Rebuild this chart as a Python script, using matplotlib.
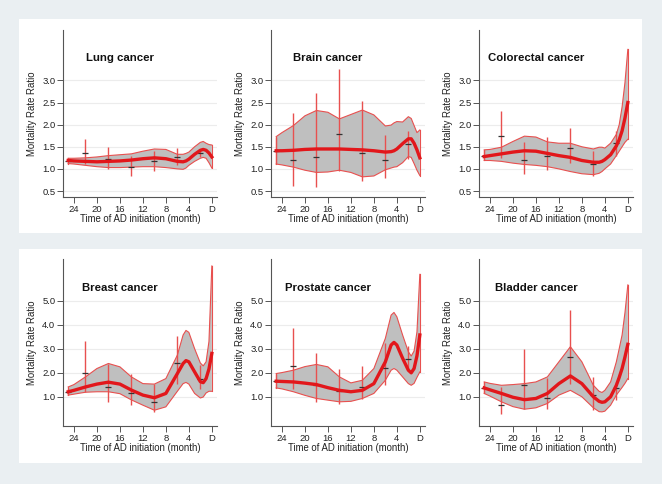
import matplotlib
matplotlib.use("Agg")
import matplotlib.pyplot as plt
from matplotlib.patches import Rectangle

plt.rcParams["font.family"] = ["Liberation Sans", "DejaVu Sans"]

#********************************************#
# data: months before diagnosis (D = 0)
pt_x = [25, 22, 18, 14, 10, 6, 2]
fit_x = [25, 24, 22, 20, 18, 16, 14, 12, 10, 8, 6, 5, 4.5, 4, 3, 2, 1.5, 1, 0.5, 0]

# lung
lung_est = [1.18, 1.36, 1.23, 1.05, 1.18, 1.27, 1.36]
lung_lo = [1.11, 1.11, 1.00, 0.83, 0.96, 1.08, 1.26]
lung_hi = [1.24, 1.68, 1.50, 1.30, 1.41, 1.47, 1.43]
lung_fit = [1.19, 1.18, 1.17, 1.16, 1.17, 1.18, 1.20, 1.23, 1.25, 1.23, 1.17, 1.16, 1.18, 1.22, 1.33, 1.42, 1.44, 1.42, 1.36, 1.27]
lung_up = [1.24, 1.24, 1.25, 1.27, 1.30, 1.32, 1.34, 1.40, 1.45, 1.44, 1.33, 1.33, 1.35, 1.38, 1.50, 1.60, 1.62, 1.58, 1.55, 1.54]
lung_dn = [1.12, 1.11, 1.08, 1.05, 1.03, 1.03, 1.04, 1.05, 1.05, 1.03, 1.00, 0.99, 1.02, 1.08, 1.17, 1.24, 1.26, 1.24, 1.14, 1.02]

# brain
brain_est = [1.41, 1.20, 1.27, 1.79, 1.36, 1.19, 1.57]
brain_lo = [1.11, 0.62, 0.59, 0.96, 0.72, 0.79, 1.23]
brain_hi = [1.73, 2.26, 2.71, 3.26, 2.54, 1.77, 1.86]
brain_fit = [1.41, 1.41, 1.42, 1.44, 1.45, 1.45, 1.45, 1.44, 1.43, 1.41, 1.38, 1.39, 1.41, 1.45, 1.57, 1.68, 1.68, 1.58, 1.43, 1.25]
brain_up = [1.73, 1.82, 1.98, 2.20, 2.32, 2.28, 2.13, 2.23, 2.33, 2.22, 1.97, 1.99, 2.04, 2.07, 2.06, 2.18, 2.14, 1.98, 1.82, 1.88]
brain_dn = [1.11, 1.09, 1.04, 0.97, 0.92, 0.93, 0.97, 0.92, 0.82, 0.84, 0.98, 1.02, 1.04, 1.05, 1.14, 1.28, 1.26, 1.12, 0.97, 0.85]

# colorectal
colo_est = [1.29, 1.74, 1.20, 1.30, 1.48, 1.10, 1.58]
colo_lo = [1.19, 1.25, 0.89, 0.98, 1.13, 0.84, 1.30]
colo_hi = [1.43, 2.31, 1.61, 1.73, 1.92, 1.41, 1.85]
colo_fit = [1.28, 1.30, 1.34, 1.38, 1.41, 1.40, 1.35, 1.30, 1.26, 1.19, 1.15, 1.15, 1.17, 1.21, 1.32, 1.52, 1.66, 1.86, 2.15, 2.50]
colo_up = [1.43, 1.44, 1.49, 1.62, 1.74, 1.72, 1.61, 1.58, 1.58, 1.50, 1.45, 1.49, 1.49, 1.47, 1.58, 1.78, 2.00, 2.40, 2.95, 3.70]
colo_dn = [1.19, 1.19, 1.17, 1.13, 1.10, 1.08, 1.05, 1.00, 0.94, 0.89, 0.87, 0.90, 0.94, 1.00, 1.11, 1.30, 1.40, 1.50, 1.60, 1.67]

# breast
breast_est = [1.20, 1.99, 1.38, 1.15, 0.78, 2.38, 1.75]
breast_lo = [1.06, 1.17, 0.78, 0.64, 0.36, 1.54, 1.33]
breast_hi = [1.36, 3.32, 2.34, 1.96, 1.54, 3.52, 2.31]
breast_fit = [1.20, 1.26, 1.40, 1.52, 1.60, 1.52, 1.27, 1.06, 0.95, 1.13, 1.96, 2.38, 2.50, 2.45, 2.03, 1.62, 1.58, 1.75, 2.15, 2.80]
breast_up = [1.40, 1.50, 1.82, 2.17, 2.38, 2.24, 1.82, 1.54, 1.52, 1.75, 2.73, 3.57, 3.76, 3.68, 3.00, 2.40, 2.28, 2.45, 3.30, 6.45]
breast_dn = [1.06, 1.10, 1.18, 1.20, 1.20, 1.12, 0.86, 0.64, 0.43, 0.57, 1.22, 1.54, 1.59, 1.52, 1.13, 0.94, 0.98, 1.15, 1.22, 1.22]

# prostate
pros_est = [1.64, 2.27, 1.47, 1.22, 1.40, 2.20, 2.55]
pros_lo = [1.36, 1.33, 0.78, 0.67, 0.89, 1.50, 2.10]
pros_hi = [1.96, 3.85, 2.80, 2.14, 2.27, 3.22, 3.12]
pros_fit = [1.64, 1.63, 1.61, 1.56, 1.50, 1.37, 1.26, 1.20, 1.26, 1.54, 2.45, 3.15, 3.26, 3.15, 2.60, 2.10, 1.99, 2.17, 2.70, 3.57]
pros_up = [1.96, 2.00, 2.10, 2.25, 2.34, 2.24, 1.82, 1.57, 1.68, 2.17, 3.43, 4.40, 4.51, 4.33, 3.57, 2.87, 2.69, 2.90, 3.70, 6.10]
pros_dn = [1.36, 1.32, 1.20, 1.05, 0.92, 0.85, 0.78, 0.80, 0.92, 1.13, 1.68, 2.10, 2.17, 2.10, 1.82, 1.54, 1.47, 1.55, 1.80, 2.03]

# bladder
blad_est = [1.36, 0.64, 1.47, 0.92, 2.65, 1.08, 1.36]
blad_lo = [1.13, 0.26, 0.50, 0.46, 1.54, 0.43, 0.85]
blad_hi = [1.61, 1.40, 2.98, 1.78, 4.61, 1.82, 1.61]
blad_fit = [1.36, 1.28, 1.13, 0.97, 0.87, 0.92, 1.13, 1.54, 1.86, 1.54, 0.99, 0.80, 0.76, 0.78, 0.99, 1.47, 1.80, 2.17, 2.65, 3.18]
blad_up = [1.61, 1.55, 1.47, 1.50, 1.54, 1.61, 1.82, 2.45, 3.08, 2.45, 1.47, 1.22, 1.17, 1.26, 1.61, 2.45, 3.00, 3.57, 4.50, 5.66]
blad_dn = [1.13, 1.02, 0.78, 0.58, 0.47, 0.53, 0.71, 1.06, 1.26, 0.99, 0.53, 0.37, 0.36, 0.39, 0.64, 1.06, 1.22, 1.38, 1.55, 1.75]

x_ticks = [24, 20, 16, 12, 8, 4, 0]
x_labels = ["24", "20", "16", "12", "8", "4", "D"]
top_yticks = [0.5, 1.0, 1.5, 2.0, 2.5, 3.0]
bot_yticks = [1.0, 2.0, 3.0, 4.0, 5.0]

panels = [
    ("Lung cancer", lung_est, lung_lo, lung_hi, lung_fit, lung_up, lung_dn),
    ("Brain cancer", brain_est, brain_lo, brain_hi, brain_fit, brain_up, brain_dn),
    ("Colorectal cancer", colo_est, colo_lo, colo_hi, colo_fit, colo_up, colo_dn),
    ("Breast cancer", breast_est, breast_lo, breast_hi, breast_fit, breast_up, breast_dn),
    ("Prostate cancer", pros_est, pros_lo, pros_hi, pros_fit, pros_up, pros_dn),
    ("Bladder cancer", blad_est, blad_lo, blad_hi, blad_fit, blad_up, blad_dn),
]

#********************************************#
fig = plt.figure(figsize=(6.62, 4.84), dpi=100)
fig.patch.set_facecolor("#eaeff2")
for yb in [0.5186, 0.0434]:
    fig.patches.append(Rectangle((0.0287, yb), 0.941, 0.442, transform=fig.transFigure,
                                 facecolor="white", edgecolor="none", zorder=-5))

lefts = [0.0952, 0.4094, 0.7236]
bottoms = [0.593, 0.1198]
red = "#e2171b"
light_red = "#e8504f"

for i, (name, est, lo, hi, fit, up, dn) in enumerate(panels):
    row = i // 3
    col = i % 3
    ax = fig.add_axes([lefts[col], bottoms[row], 0.2326, 0.346])
    ax.set_zorder(2)
    ax.set_facecolor("none")

    # confidence band
    ax.fill_between(fit_x, dn, up, facecolor="#bfbfbf", edgecolor="none", zorder=2)
    ax.plot(fit_x, up, color=light_red, linewidth=0.8, zorder=3)
    ax.plot(fit_x, dn, color=light_red, linewidth=0.8, zorder=3)
    ax.plot([fit_x[0], fit_x[0]], [dn[0], up[0]], color=light_red, linewidth=0.8, zorder=3)
    ax.plot([fit_x[-1], fit_x[-1]], [dn[-1], up[-1]], color=light_red, linewidth=0.8, zorder=3)
    # point estimates with CI
    ax.vlines(pt_x, lo, hi, color=light_red, linewidth=1.0, zorder=4)
    ax.plot(pt_x, est, linestyle="none", marker="_", markersize=5, markeredgewidth=0.9,
            color="#333333", zorder=5)
    # spline fit
    ax.plot(fit_x, fit, color=red, linewidth=2.4, zorder=6)

    ax.set_xlim(25.9, -0.9)
    if row == 0:
        ax.set_ylim(0.365, 4.15)
        ax.set_yticks(top_yticks)
        ax.set_yticklabels(["%.1f" % v for v in top_yticks])
    else:
        ax.set_ylim(-0.23, 6.76)
        ax.set_yticks(bot_yticks)
        ax.set_yticklabels(["%.1f" % v for v in bot_yticks])
    ax.set_xticks(x_ticks)
    ax.set_xticklabels(x_labels)
    ax.grid(axis="y", color="#ececec", linewidth=0.8, zorder=0)
    ax.set_axisbelow(True)

    for s in ["top", "right"]:
        ax.spines[s].set_visible(False)
    for s in ["left", "bottom"]:
        ax.spines[s].set_color("#555555")
        ax.spines[s].set_linewidth(0.8)
    ax.tick_params(length=4, width=0.7, color="#555555", labelsize=6.8, pad=1.5,
                   labelcolor="#222222")

    ax.set_xlabel("Time of AD initiation (month)", fontsize=6.9, labelpad=0.5, color="#222222")
    ax.set_ylabel("Mortality Rate Ratio", fontsize=6.9, labelpad=3.5, color="#222222")
    ax.text(0.37, 0.827, name, transform=ax.transAxes, ha="center", va="center",
            fontsize=8.2, fontweight="bold", color="#111111")

plt.savefig("out.png", dpi=100, facecolor=fig.get_facecolor())
